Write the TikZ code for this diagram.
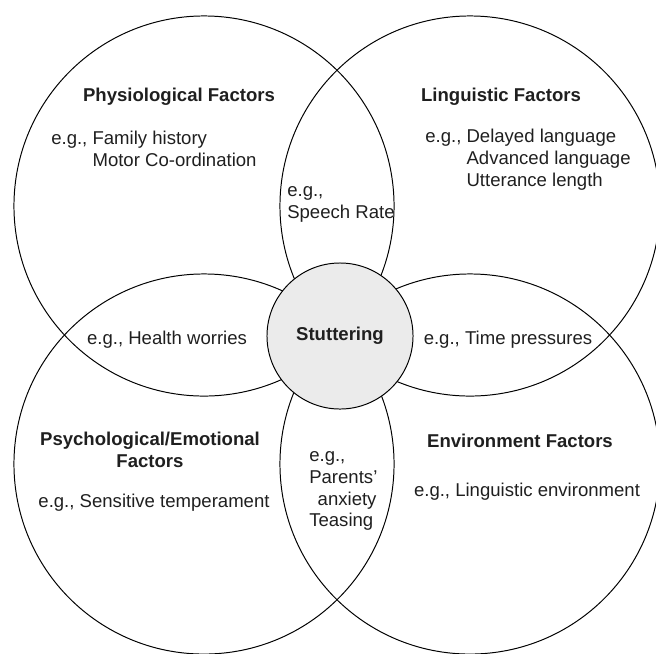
\documentclass[tikz,border=0pt]{standalone}
\usepackage{fontspec}
\setmainfont{Liberation Sans}
\usetikzlibrary{positioning}

\begin{document}
\begin{tikzpicture}[
    x=0.025cm, y=-0.025cm,
    ring/.style={draw, circle, line width=0.7pt, minimum size=9.5cm, inner sep=0pt},
    core/.style={draw, circle, fill=black!8, line width=0.7pt, minimum size=3.65cm, inner sep=0pt,
      text=black!88, font=\bfseries\fontsize{13.2}{15.6}\selectfont},
    heading/.style={inner sep=0pt, align=center, text=black!88, font=\bfseries\fontsize{13.2}{15.6}\selectfont},
    example/.style={inner sep=0pt, align=left, text=black!88, font=\fontsize{13.2}{15.6}\selectfont}
  ]
  % Page frame, same size as the reference
  \useasboundingbox (0,0) rectangle (656,653);
  \clip (0,0) rectangle (656,653);

  % The four factor circles
  \foreach \name/\x/\y in {physio/204/206, lingu/470/206, psycho/204/464, envir/470/464} {
    \node[ring] (\name) at (\x,\y) {};
  }

  % Stuttering in the middle, drawn last so it hides the inner arcs
  \node[core] (stutter) at (340,336) {Stuttering};

  % Physiological factors
  \node[heading] (physio_title) at (179,97) {Physiological Factors};
  \node[example, anchor=west] (physio_eg) at (51,149) {e.g., Family history\\\hphantom{e.g.,\ }Motor Co-ordination};

  % Linguistic factors
  \node[heading] (lingu_title) at (501,97) {Linguistic Factors};
  \node[example, anchor=west] (lingu_eg) at (425,160) {e.g., Delayed language\\\hphantom{e.g.,\ }Advanced language\\\hphantom{e.g.,\ }Utterance length};

  % Psychological/emotional factors
  \node[heading] (psycho_title) at (150,450) {Psychological/Emotional\\Factors};
  \node[example] (psycho_eg) at (154,503) {e.g., Sensitive temperament};

  % Environment factors
  \node[heading] (envir_title) at (520,441) {Environment Factors};
  \node[example] (envir_eg) at (527,492) {e.g., Linguistic environment};

  % Overlaps between neighbouring circles
  \node[example, anchor=west] (speech) at (287,204) {e.g.,\\Speech Rate};
  \node[example] (health) at (167,340) {e.g., Health worries};
  \node[example] (time) at (508,340) {e.g., Time pressures};
  \node[example, anchor=west] (parents) at (309,491) {e.g.,\\Parents’\\\hspace*{6pt}anxiety\\Teasing};
\end{tikzpicture}
\end{document}
